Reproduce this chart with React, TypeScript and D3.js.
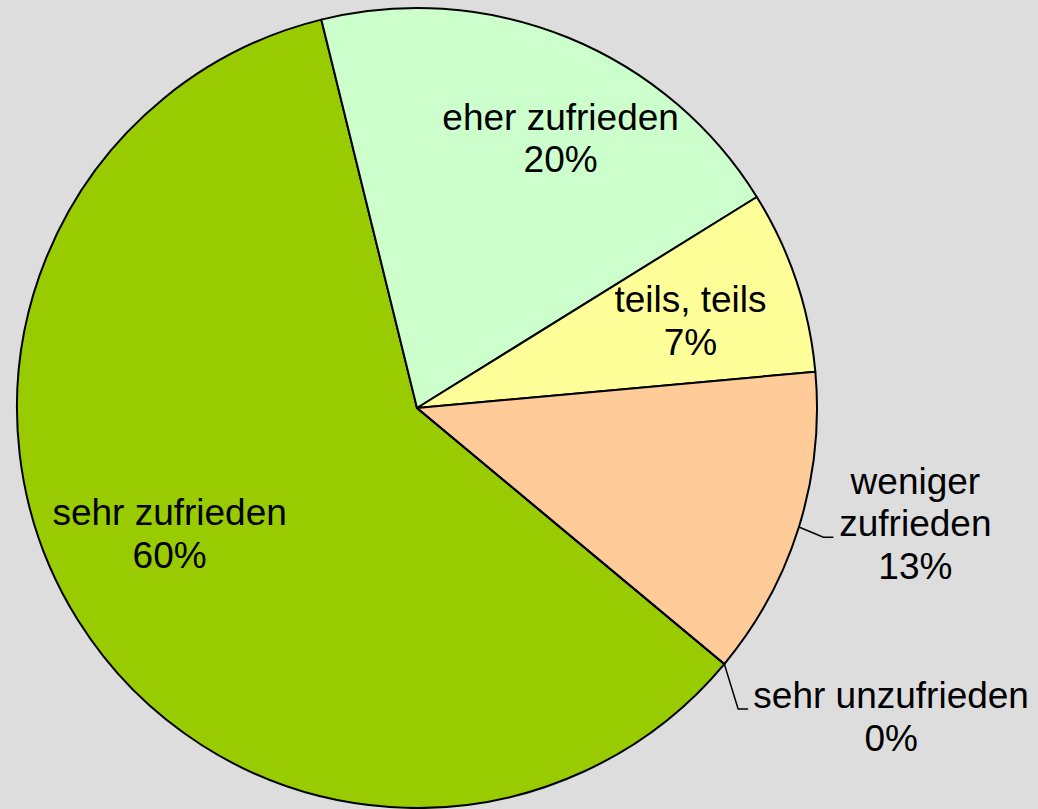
import React, { useRef, useEffect } from 'react';
import * as d3 from 'd3';

// satisfaction shares (percent), clockwise order as in the original
const categories = ['sehr zufrieden', 'eher zufrieden', 'teils, teils', 'weniger zufrieden', 'sehr unzufrieden'];
const shares = [60.1, 20.0, 7.4, 12.5, 0];
const labelLines = [
  ['sehr zufrieden'],
  ['eher zufrieden'],
  ['teils, teils'],
  ['weniger', 'zufrieden'],
  ['sehr unzufrieden'],
];
const colors = ['#99CC00', '#CCFFCC', '#FFFF99', '#FFCC99', '#FF9966'];

function PieChart() {
  const ref = useRef<SVGSVGElement>(null);

  useEffect(() => {
    const svg = d3.select(ref.current);
    svg.selectAll('*').remove();

    const width = 1038;
    const height = 809;
    const cx = 417;
    const cy = 408;
    const r = 400;
    const fontSize = 37;
    const lineGap = 42.5;

    svg.append('rect').attr('width', width).attr('height', height).attr('fill', '#DDDDDD');

    const startDeg = 129.8;
    const pie = d3.pie<number>()
      .sort(null)
      .startAngle((startDeg * Math.PI) / 180)
      .endAngle((startDeg * Math.PI) / 180 + 2 * Math.PI);
    const arcs = pie(shares);

    const arc = d3.arc<d3.PieArcDatum<number>>().innerRadius(0).outerRadius(r);
    const inLabel = d3.arc<d3.PieArcDatum<number>>().innerRadius(r * 0.7).outerRadius(r * 0.7);
    const outLabel = d3.arc<d3.PieArcDatum<number>>().innerRadius(r * 1.25).outerRadius(r * 1.25);

    const g = svg.append('g').attr('transform', `translate(${cx},${cy})`);

    g.selectAll('path.slice')
      .data(arcs)
      .join('path')
      .attr('class', 'slice')
      .attr('d', arc)
      .attr('fill', (_, i) => colors[i])
      .attr('stroke', '#000')
      .attr('stroke-width', 2)
      .attr('stroke-linejoin', 'round');

    // label placement: which label arc, plus nudge to first baseline
    const placement = [
      { outside: false, dx: -10, dy: -31 },
      { outside: false, dx: 38, dy: -19 },
      { outside: false, dx: 8, dy: -7 },
      { outside: true, dx: 21, dy: -63, leader: { lineIdx: 1, halfW: 82 } },
      { outside: true, dx: 90, dy: -20, leader: { lineIdx: 0, halfW: 143 } },
    ];

    arcs.forEach((a, i) => {
      const p = placement[i];
      const [bx, by] = (p.outside ? outLabel : inLabel).centroid(a);
      const x = bx + p.dx;
      const y = by + p.dy;
      const lines = [...labelLines[i], `${Math.round(shares[i])}%`];

      const t = g.append('text')
        .attr('text-anchor', 'middle')
        .attr('font-family', 'Liberation Sans, Arial, sans-serif')
        .attr('font-size', fontSize)
        .attr('fill', '#000');
      lines.forEach((ln, k) => {
        t.append('tspan').attr('x', x).attr('y', y + k * lineGap).text(ln);
      });

      if (p.leader) {
        const mid = (a.startAngle + a.endAngle) / 2;
        const sx = Math.sin(mid) * r;
        const sy = -Math.cos(mid) * r;
        const ey = y + p.leader.lineIdx * lineGap + 1;
        const ex = x - p.leader.halfW;
        const line = d3.line();
        g.append('path')
          .attr('d', line([[sx, sy], [ex - 10, ey], [ex, ey]]))
          .attr('fill', 'none')
          .attr('stroke', '#000')
          .attr('stroke-width', 1.5);
      }
    });
  }, []);

  return <svg ref={ref} width={1038} height={809} style={{ display: 'block' }}></svg>;
}

export default function App() {
  return (
    <div style={{ position: 'fixed', left: 0, top: 0, width: 1038, height: 809, background: '#DDDDDD' }}>
      <PieChart />
    </div>
  );
}
